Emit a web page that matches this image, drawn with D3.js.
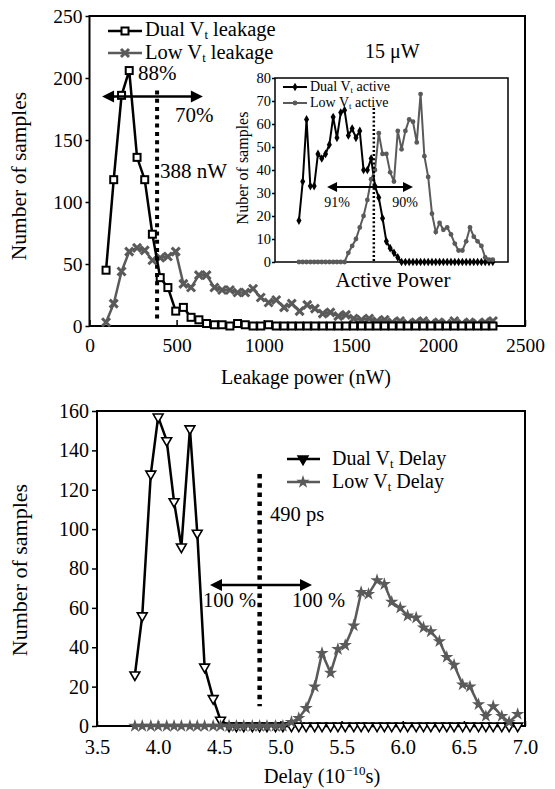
<!DOCTYPE html>
<html><head><meta charset="utf-8">
<script src="https://cdn.jsdelivr.net/npm/d3@7"></script>
<style>
html,body{margin:0;padding:0;background:#fff;}
svg text{font-family:"Liberation Serif","Times New Roman",serif;fill:#000;}
</style></head>
<body>
<svg id="c" width="555" height="789"></svg>
<script>
// ---------- DATA ----------
const leakBins = [95,139,184,228,273,317,361,406,450,495,539,583,628,672,717,761,806,850,894,939,983,1028,1072,1117,1161,1206,1250,1294,1339,1383,1428,1472,1516,1561,1605,1650,1694,1738,1783,1827,1872,1916,1960,2005,2049,2094,2138,2182,2227,2271,2316];
const dualLeak = [45,118,186,206,136,118,74,39,31,12,15,7,5,2,1,1,0,2,1,0,0,1,0,0,0,0,0,0,0,0,0,0,0,0,0,0,0,0,0,0,0,0,0,0,0,0,0,0,0,0,0];
const lowLeak  = [3,18,44,60,63,61,53,55,56,60,34,31,41,41,31,29,29,27,27,30,23,19,21,15,18,12,17,14,10,11,8,9,6,5,6,4,5,3,4,2,3,4,2,3,2,4,2,3,2,3,4];
const leakXTicks = [0,500,1000,1500,2000,2500];
const leakYTicks = [0,50,100,150,200,250];

const activeBins = d3.range(52); // sample index (no tick labels in the inset)
const dualActive = [18,35,62,33,33,47,45,47,51,63,54,65,66,55,58,54,57,40,40,45,33,28,19,9,6,4,2,0,0,0,0,0,0,0,0,0,0,0,0,0,0,0,0,0,0,0,0,0,0,0,0,0];
const lowActive  = [0,0,0,0,0,0,0,0,0,0,0,0,0,4,7,10,15,20,27,36,40,56,47,47,39,35,57,49,57,62,61,52,73,46,37,21,13,17,14,15,12,8,5,5,9,15,11,9,7,2,1,1];
const activeYTicks = [0,10,20,30,40,50,60,70,80];

const delayBins = [3.81,3.87,3.94,4.0,4.07,4.13,4.19,4.26,4.32,4.38,4.45,4.51,4.58,4.64,4.70,4.77,4.83,4.89,4.96,5.02,5.09,5.15,5.21,5.28,5.34,5.41,5.47,5.53,5.60,5.66,5.72,5.79,5.85,5.91,5.98,6.04,6.11,6.17,6.23,6.30,6.36,6.42,6.49,6.55,6.62,6.68,6.74,6.81,6.87,6.94];
const dualDelay = [26,56,128,157,145,114,91,151,98,30,14,3,0,0,0,0,0,0,0,0,0,0,0,0,0,0,0,0,0,0,0,0,0,0,0,0,0,0,0,0,0,0,0,0,0,0,0,0,0,0];
const lowDelay  = [0,0,0,0,0,0,0,0,0,0,0,0,0,0,0,0,0,0,0,0,2,4,9,20,37,27,39,41,51,68,67,74,72,63,60,56,55,50,48,43,35,31,21,20,11,5,10,5,2,6];
const delayXTicks = [3.5,4.0,4.5,5.0,5.5,6.0,6.5,7.0];
const delayYTicks = [0,20,40,60,80,100,120,140,160];

const GRAY = "#5a5a5a";
const svg = d3.select("#c");

function vtText(g, x, y, pre, post, size){
  const t = g.append("text").attr("x",x).attr("y",y).attr("font-size",size);
  t.append("tspan").text(pre + "V");
  t.append("tspan").attr("font-size",size*0.62).attr("dy",size*0.16).text("t");
  t.append("tspan").attr("dy",-size*0.16).text(post);
  return t;
}
function arrow(g, x1, x2, y, head, half, w){
  g.append("line").attr("x1",x1+head*0.8).attr("x2",x2-head*0.8).attr("y1",y).attr("y2",y)
    .attr("stroke","#000").attr("stroke-width",w);
  g.append("path").attr("d",`M${x1},${y}L${x1+head},${y-half}L${x1+head},${y+half}Z`).attr("fill","#000");
  g.append("path").attr("d",`M${x2},${y}L${x2-head},${y-half}L${x2-head},${y+half}Z`).attr("fill","#000");
}
function styleAxis(g, size){
  g.select(".domain").remove();
  g.selectAll("text").attr("font-size",size).attr("font-family","Liberation Serif, serif").attr("fill","#000");
  g.selectAll("line").attr("stroke","#000").attr("stroke-width",1.5);
}
const xMark = "M-4,-4L4,4M-4,4L4,-4";

// ================= TOP CHART =================
const xL = d3.scaleLinear().domain([0,2500]).range([89.5,525]);
const yL = d3.scaleLinear().domain([0,250]).range([326,16]);
const topG = svg.append("g");

topG.append("g").attr("transform","translate(0,326)")
  .call(d3.axisBottom(xL).tickValues(leakXTicks).tickSize(-6).tickPadding(12).tickFormat(d3.format("d")))
  .call(g=>styleAxis(g,19.5));
topG.append("g").attr("transform","translate(89.5,0)")
  .call(d3.axisLeft(yL).tickValues(leakYTicks).tickSize(4).tickPadding(3))
  .call(g=>styleAxis(g,19.5));
topG.append("rect").attr("x",89.5).attr("y",16).attr("width",525-89.5).attr("height",310)
  .attr("fill","none").attr("stroke","#000").attr("stroke-width",2);

const lineL = (arr)=>d3.line().x((d,i)=>xL(leakBins[i])).y(d=>yL(d))(arr);
topG.append("path").attr("d",lineL(lowLeak)).attr("fill","none").attr("stroke",GRAY).attr("stroke-width",2.5);
topG.selectAll(".lx").data(lowLeak).enter().append("path")
  .attr("transform",(d,i)=>`translate(${xL(leakBins[i])},${yL(d)})`)
  .attr("d",xMark).attr("stroke",GRAY).attr("stroke-width",3).attr("fill","none");
topG.append("path").attr("d",lineL(dualLeak)).attr("fill","none").attr("stroke","#000").attr("stroke-width",2.5);
topG.selectAll(".dq").data(dualLeak).enter().append("rect")
  .attr("x",(d,i)=>xL(leakBins[i])-3.5).attr("y",d=>yL(d)-3.5).attr("width",7).attr("height",7)
  .attr("fill","#fff").attr("stroke","#000").attr("stroke-width",2);

topG.append("line").attr("x1",xL(388)).attr("x2",xL(388)).attr("y1",yL(190)).attr("y2",yL(3))
  .attr("stroke","#000").attr("stroke-width",4).attr("stroke-dasharray","4,4.3");
arrow(topG, xL(72), xL(651), yL(185), 12, 6, 2.5);
topG.append("text").attr("x",138).attr("y",80).attr("font-size",21).text("88%");
topG.append("text").attr("x",175).attr("y",122).attr("font-size",21).text("70%");
topG.append("text").attr("x",160).attr("y",178).attr("font-size",21).text("388 nW");
topG.append("text").attr("x",365).attr("y",58).attr("font-size",20).text("15 \u03bcW");

topG.append("line").attr("x1",108).attr("x2",142).attr("y1",31).attr("y2",31).attr("stroke","#000").attr("stroke-width",2.5);
topG.append("rect").attr("x",121.5).attr("y",27.5).attr("width",7).attr("height",7).attr("fill","#fff").attr("stroke","#000").attr("stroke-width",2);
vtText(topG,145,36,"Dual ","  leakage",20.5);
topG.append("line").attr("x1",108).attr("x2",142).attr("y1",53).attr("y2",53).attr("stroke",GRAY).attr("stroke-width",2.5);
topG.append("path").attr("transform","translate(125,53)").attr("d",xMark).attr("stroke",GRAY).attr("stroke-width",3);
vtText(topG,145,59,"Low ","  leakage",20.5);

topG.append("text").attr("transform","translate(26,176) rotate(-90)").attr("text-anchor","middle")
  .attr("font-size",21.5).text("Number of samples");
topG.append("text").attr("x",306).attr("y",384).attr("text-anchor","middle").attr("font-size",20).text("Leakage power (nW)");

// ---------- INSET ----------
const xI = d3.scaleLinear().domain([-6.3,55]).range([275,508]);
const yI = d3.scaleLinear().domain([0,80]).range([262,78]);
const ins = svg.append("g");
ins.append("rect").attr("x",275).attr("y",78).attr("width",233).attr("height",184).attr("fill","#fff");
ins.append("g").attr("transform","translate(275,0)")
  .call(d3.axisLeft(yI).tickValues(activeYTicks).tickSize(3).tickPadding(1))
  .call(g=>styleAxis(g,14.5));
ins.append("rect").attr("x",275).attr("y",78).attr("width",233).attr("height",184)
  .attr("fill","none").attr("stroke","#000").attr("stroke-width",1.5);
const lineI = (arr)=>d3.line().x((d,i)=>xI(activeBins[i])).y(d=>yI(d))(arr);
ins.append("path").attr("d",lineI(dualActive)).attr("fill","none").attr("stroke","#000").attr("stroke-width",2);
ins.selectAll(".da").data(dualActive).enter().append("path")
  .attr("transform",(d,i)=>`translate(${xI(activeBins[i])},${yI(d)})`)
  .attr("d",d3.symbol(d3.symbolDiamond,22)()).attr("fill","#000");
ins.append("path").attr("d",lineI(lowActive)).attr("fill","none").attr("stroke",GRAY).attr("stroke-width",2);
ins.selectAll(".la").data(lowActive).enter().append("circle")
  .attr("cx",(d,i)=>xI(activeBins[i])).attr("cy",d=>yI(d)).attr("r",2.4).attr("fill",GRAY);
ins.append("line").attr("x1",xI(19.7)).attr("x2",xI(19.7)).attr("y1",yI(67)).attr("y2",yI(0))
  .attr("stroke","#000").attr("stroke-width",2.5).attr("stroke-dasharray","2,2.2");
arrow(ins, xI(7.4), xI(30), yI(32.6), 10, 5, 2);
ins.append("text").attr("x",337).attr("y",207).attr("text-anchor","middle").attr("font-size",14).text("91%");
ins.append("text").attr("x",405).attr("y",207).attr("text-anchor","middle").attr("font-size",14).text("90%");
ins.append("line").attr("x1",283).attr("x2",307).attr("y1",87).attr("y2",87).attr("stroke","#000").attr("stroke-width",2);
ins.append("path").attr("transform","translate(295,87)").attr("d",d3.symbol(d3.symbolDiamond,22)()).attr("fill","#000");
vtText(ins,310,90.5,"Dual ","  active",14);
ins.append("line").attr("x1",283).attr("x2",307).attr("y1",103).attr("y2",103).attr("stroke",GRAY).attr("stroke-width",2);
ins.append("circle").attr("cx",295).attr("cy",103).attr("r",2.4).attr("fill",GRAY);
vtText(ins,310,106.5,"Low ","  active",14);
ins.append("text").attr("transform","translate(248,168) rotate(-90)").attr("text-anchor","middle")
  .attr("font-size",16).text("Nuber of samples");
ins.append("text").attr("x",393).attr("y",287).attr("text-anchor","middle").attr("font-size",21).text("Active Power");

// ================= BOTTOM CHART =================
const xD = d3.scaleLinear().domain([3.5,7.0]).range([97,525]);
const yD = d3.scaleLinear().domain([0,160]).range([726,411]);
const bot = svg.append("g");
bot.append("g").attr("transform","translate(0,726)")
  .call(d3.axisBottom(xD).tickValues(delayXTicks).tickSize(-5).tickPadding(13).tickFormat(d3.format(".1f")))
  .call(g=>styleAxis(g,20.5));
bot.append("g").attr("transform","translate(97,0)")
  .call(d3.axisLeft(yD).tickValues(delayYTicks).tickSize(5).tickPadding(3))
  .call(g=>styleAxis(g,20));
bot.append("rect").attr("x",97).attr("y",411).attr("width",428).attr("height",315)
  .attr("fill","none").attr("stroke","#000").attr("stroke-width",2);
const lineD = (arr)=>d3.line().x((d,i)=>xD(delayBins[i])).y(d=>yD(d))(arr);
const triDown = d3.symbol(d3.symbolTriangle,42)();
bot.append("path").attr("d",lineD(dualDelay)).attr("fill","none").attr("stroke","#000").attr("stroke-width",2.5);
bot.selectAll(".dd").data(dualDelay).enter().append("path")
  .attr("transform",(d,i)=>`translate(${xD(delayBins[i])},${yD(d)}) rotate(180)`)
  .attr("d",triDown).attr("fill","#fff").attr("stroke","#000").attr("stroke-width",1.6);
const star = d3.symbol(d3.symbolStar,55)();
bot.append("path").attr("d",lineD(lowDelay)).attr("fill","none").attr("stroke",GRAY).attr("stroke-width",2.5);
bot.selectAll(".ld").data(lowDelay).enter().append("path")
  .attr("transform",(d,i)=>`translate(${xD(delayBins[i])},${yD(d)})`)
  .attr("d",star).attr("fill",GRAY);

bot.append("line").attr("x1",xD(4.83)).attr("x2",xD(4.83)).attr("y1",yD(128)).attr("y2",yD(10))
  .attr("stroke","#000").attr("stroke-width",4.5).attr("stroke-dasharray","4.5,4.7");
arrow(bot, xD(4.424), xD(5.258), yD(71.6), 12, 6, 2.5);
bot.append("text").attr("x",270).attr("y",521).attr("font-size",20.5).text("490 ps");
bot.append("text").attr("x",203).attr("y",607).attr("font-size",20.5).text("100 %");
bot.append("text").attr("x",292).attr("y",607).attr("font-size",20.5).text("100 %");

bot.append("line").attr("x1",287).attr("x2",320).attr("y1",459).attr("y2",459).attr("stroke","#000").attr("stroke-width",2.5);
bot.append("path").attr("transform","translate(303,459) rotate(180)").attr("d",triDown).attr("fill","#000").attr("stroke","#000").attr("stroke-width",1.6);
vtText(bot,332,465,"Dual ","  Delay",20);
bot.append("line").attr("x1",287).attr("x2",320).attr("y1",482).attr("y2",482).attr("stroke",GRAY).attr("stroke-width",2.5);
bot.append("path").attr("transform","translate(303,482)").attr("d",star).attr("fill",GRAY);
vtText(bot,332,488,"Low ","  Delay",20);

bot.append("text").attr("transform","translate(27,570) rotate(-90)").attr("text-anchor","middle")
  .attr("font-size",22).text("Number of samples");
const dl = bot.append("text").attr("x",322).attr("y",783).attr("text-anchor","middle").attr("font-size",20.5);
dl.append("tspan").text("Delay (10");
dl.append("tspan").attr("font-size",13).attr("dy",-8).text("\u221210");
dl.append("tspan").attr("dy",8).text("s)");
</script>
</body></html>
